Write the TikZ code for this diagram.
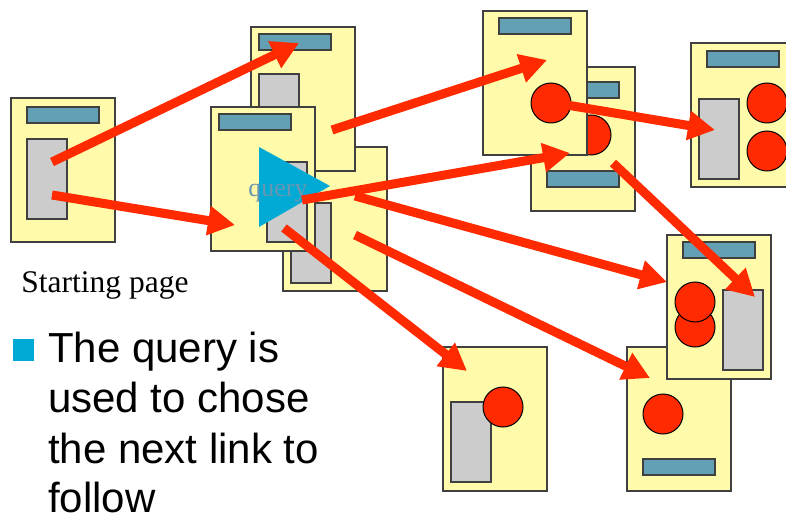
\documentclass[tikz,border=0pt]{standalone}
\usepackage{fontspec}
\setmainfont{Liberation Serif}
\newfontfamily\arialf{Liberation Sans}
\usetikzlibrary{arrows.meta}
\definecolor{pageyel}{RGB}{255,251,170}
\definecolor{pageline}{RGB}{64,64,64}
\definecolor{barblue}{RGB}{100,160,180}
\definecolor{boxgray}{RGB}{204,204,204}
\definecolor{linkred}{RGB}{255,42,0}
\definecolor{qcyan}{RGB}{0,170,212}
\definecolor{qtext}{RGB}{105,150,178}
\begin{document}
\begin{tikzpicture}[x=1pt,y=-1pt,
  pg/.style={draw=pageline,fill=pageyel,line width=1.3pt,minimum width=104pt,minimum height=144pt,inner sep=0pt,outer sep=0pt,anchor=north west},
  bar/.style={draw=pageline,fill=barblue,line width=1.2pt,minimum width=72pt,minimum height=16pt,inner sep=0pt,outer sep=0pt,anchor=north west},
  gbox/.style={draw=pageline,fill=boxgray,line width=1.2pt,minimum width=40pt,minimum height=80pt,inner sep=0pt,outer sep=0pt,anchor=north west},
  dot/.style={circle,draw=black,fill=linkred,line width=1pt,minimum size=40pt,inner sep=0pt,outer sep=0pt},
  link/.style={draw=linkred,line width=9pt,-{Triangle[length=27pt,width=28pt]}},
  bullettext/.style={font=\arialf\fontsize{42}{50}\selectfont,anchor=base west,inner sep=0pt,text depth=0pt}
]
\useasboundingbox (0,0) rectangle (786,518);
\fill[white] (0,0) rectangle (786,518);
\clip (0,0) rectangle (786,518);

% starting page
\node[pg] (S) at (11,98) {};
\node[bar] (Sb) at (27,107) {};
\node[gbox] (Sg) at (27,139) {};
\node[font=\fontsize{31.5}{34}\selectfont,anchor=base,inner sep=0pt] (Slabel) at (105,292) {Starting page};

% central cluster
\node[pg] (C) at (283,147) {};
\node[gbox] (Cg) at (291,203) {};
\node[pg] (A) at (251,27) {};
\node[bar] (Ab) at (259,34) {};
\node[gbox] (Ag) at (259,74) {};
\node[pg] (B) at (211,107) {};
\node[bar] (Bb) at (219,114) {};
\node[gbox] (Bg) at (267,162) {};
\fill[qcyan] (259,147) coordinate (q1) -- (259,227) coordinate (q2) -- (330,186) coordinate (q3) -- cycle;
\node[font=\fontsize{26}{28}\selectfont,text=qtext,anchor=base,inner sep=0pt] (Q) at (278,197) {query};

% top right pair
\node[pg] (E) at (531,67) {};
\node[bar] (Eb) at (547,82) {};
\node[bar] (Eb2) at (547,171) {};
\node[dot] (Ed) at (591,135) {};
\node[pg] (D) at (483,11) {};
\node[bar] (Db) at (499,18) {};
\node[dot] (Dd) at (551,103) {};

% far right page
\node[pg] (F) at (691,43) {};
\node[bar] (Fb) at (707,51) {};
\node[gbox] (Fg) at (699,99) {};
\node[dot] (Fd1) at (767,103) {};
\node[dot] (Fd2) at (767,151) {};

% bottom left page
\node[pg] (G) at (443,347) {};
\node[gbox] (Gg) at (451,402) {};
\node[dot] (Gd) at (503,407) {};

% bottom right pair
\node[pg] (H) at (627,347) {};
\node[dot] (Hd) at (663,414) {};
\node[bar] (Hb) at (643,459) {};
\node[pg] (I) at (667,235) {};
\node[bar] (Ib) at (683,242) {};
\node[gbox] (Ig) at (723,290) {};
\node[dot] (Id1) at (695,327) {};
\node[dot] (Id2) at (695,302) {};

% link endpoints
\coordinate (s1) at (52,162);
\coordinate (t1) at (299,43);
\coordinate (s2) at (52,195);
\coordinate (t2) at (235,225);
\coordinate (s3) at (332,130);
\coordinate (t3) at (547,60);
\coordinate (s4) at (302,200);
\coordinate (t4) at (570,153);
\coordinate (s5) at (355,196);
\coordinate (t5) at (667,282);
\coordinate (s6) at (355,235);
\coordinate (t6) at (650,378);
\coordinate (s7) at (284,228);
\coordinate (t7) at (467,371);
\coordinate (s8) at (555,103);
\coordinate (t8) at (715,130);
\coordinate (s9) at (613,163);
\coordinate (t9) at (755,297);

\draw[link] (s1) -- (t1);
\draw[link] (s2) -- (t2);
\draw[link] (s3) -- (t3);
\draw[link] (s4) -- (t4);
\draw[link] (s5) -- (t5);
\draw[link] (s6) -- (t6);
\draw[link] (s7) -- (t7);
\draw[link] (s8) -- (t8);
\draw[link] (s9) -- (t9);

% bullet text
\fill[qcyan] (13,339) rectangle (34,361) coordinate (bullet);
\node[bullettext] (L1) at (48,362) {The query is};
\node[bullettext] (L2) at (48,412) {used to chose};
\node[bullettext] (L3) at (48,463) {the next link to};
\node[bullettext] (L4) at (48,512) {follow};
\end{tikzpicture}
\end{document}
